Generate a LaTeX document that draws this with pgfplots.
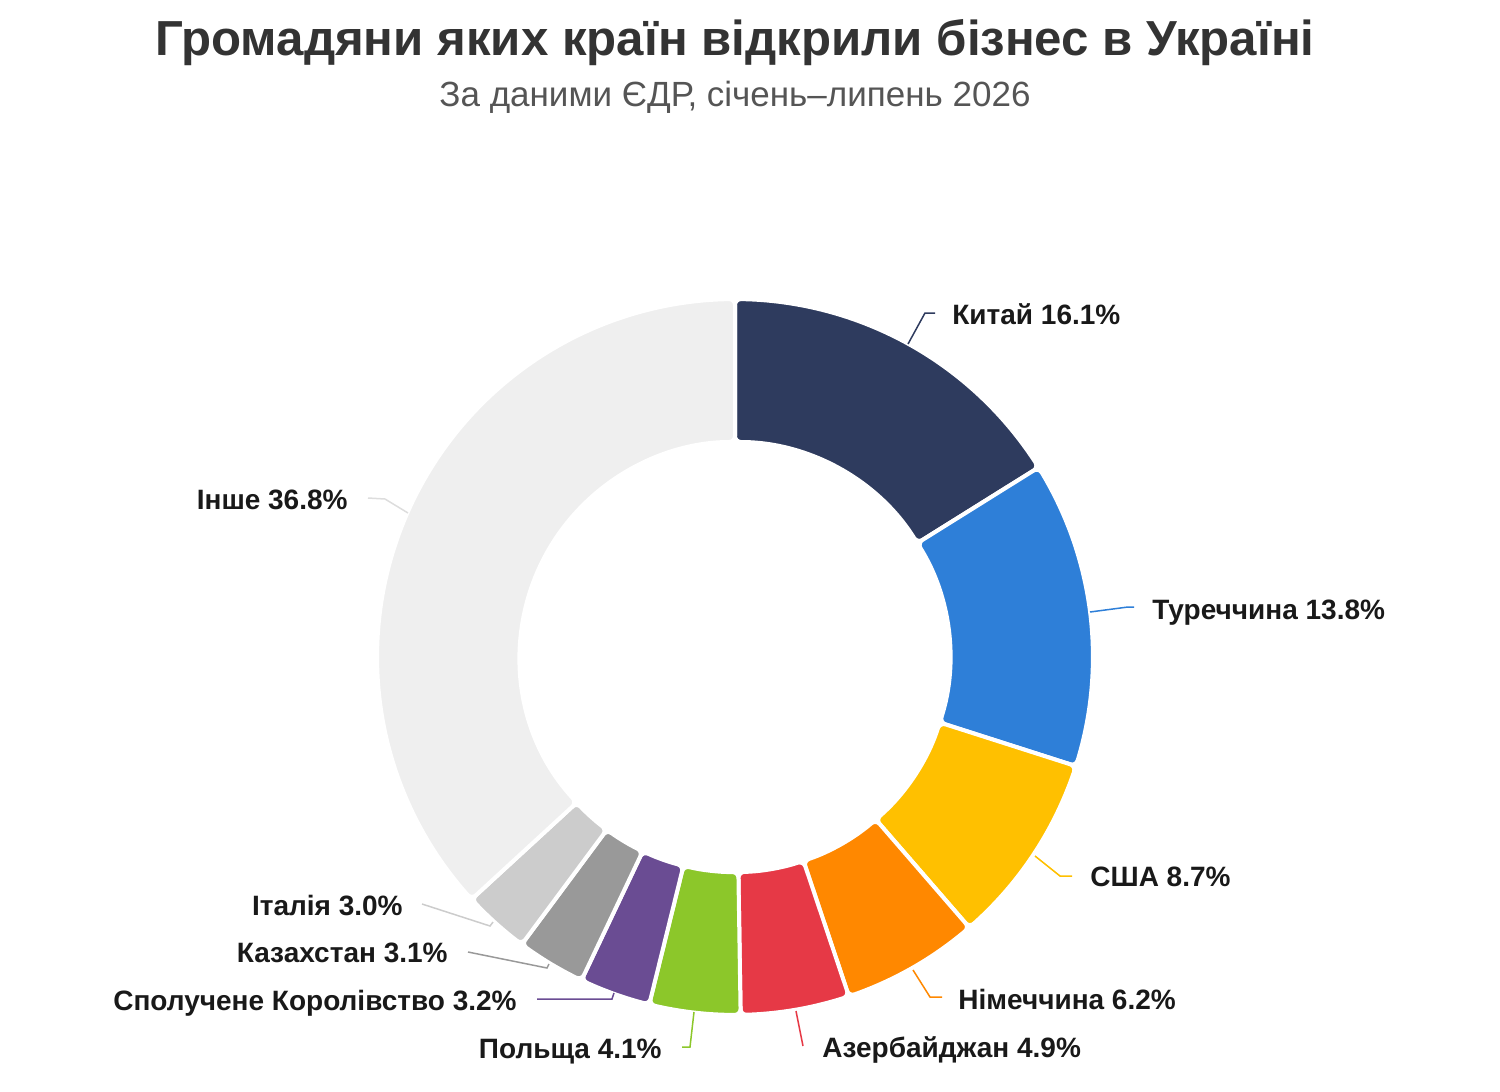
\documentclass[border=0pt]{standalone}
\usepackage{pgfplots}
\pgfplotsset{compat=1.18}
\usepackage{fontspec}
\setmainfont{Liberation Sans}
\definecolor{cChina}{HTML}{2E3B5E}
\definecolor{cTurkey}{HTML}{2E7FD8}
\definecolor{cUSA}{HTML}{FFC000}
\definecolor{cGermany}{HTML}{FF8800}
\definecolor{cAzer}{HTML}{E63946}
\definecolor{cPoland}{HTML}{8CC72A}
\definecolor{cUK}{HTML}{6A4C93}
\definecolor{cKaz}{HTML}{999999}
\definecolor{cItaly}{HTML}{CCCCCC}
\definecolor{cOther}{HTML}{EFEFEF}
\definecolor{cOtherLine}{HTML}{DDDDDD}
\definecolor{titlegray}{HTML}{333333}
\definecolor{subgray}{HTML}{555555}
% shares, per cent
\def\vChina{16.1}\def\vTurkey{13.8}\def\vUSA{8.7}\def\vGermany{6.2}\def\vAzer{4.9}
\def\vPoland{4.1}\def\vUK{3.2}\def\vKaz{3.1}\def\vItaly{3.0}\def\vOther{36.8}
\pgfmathsetmacro{\cA}{0}
\pgfmathsetmacro{\cB}{\cA+\vChina}
\pgfmathsetmacro{\cC}{\cB+\vTurkey}
\pgfmathsetmacro{\cD}{\cC+\vUSA}
\pgfmathsetmacro{\cE}{\cD+\vGermany}
\pgfmathsetmacro{\cF}{\cE+\vAzer}
\pgfmathsetmacro{\cG}{\cF+\vPoland}
\pgfmathsetmacro{\cH}{\cG+\vUK}
\pgfmathsetmacro{\cI}{\cH+\vKaz}
\pgfmathsetmacro{\cJ}{\cI+\vItaly}
\pgfmathsetmacro{\cK}{\cJ+\vOther}
\pgfmathsetmacro{\kdeg}{360/\cK}
\newcommand{\slice}[3]{%
  \pgfmathsetmacro{\aLo}{90-\kdeg*#2}%
  \pgfmathsetmacro{\aHi}{90-\kdeg*#1}%
  \pgfmathsetmacro{\ix}{735+215*cos(\aHi)}%
  \pgfmathsetmacro{\iy}{657-215*sin(\aHi)}%
  \pgfmathtruncatemacro{\ns}{max(3,(\aHi-\aLo)/2)}%
  \edef\temp{\noexpand\addplot[fill=#3, draw=white, line width=2pt,
    line join=round, rounded corners=3pt, domain=\aLo:\aHi, samples=\ns]
    ({735+358*cos(x)},{657-358*sin(x)}) -- (axis cs:\ix,\iy)
    arc[start angle=\aHi, end angle=\aLo, radius=107.5pt] -- cycle;}%
  \temp
}
\begin{document}
\begin{tikzpicture}
\begin{axis}[
  width=750pt, height=546pt, scale only axis,
  xmin=0, xmax=1500, ymin=0, ymax=1092, y dir=reverse,
  hide axis, clip=false,
]
\path (axis cs:0,0) rectangle (axis cs:1500,1092);
\slice{\cA}{\cB}{cChina}
\slice{\cB}{\cC}{cTurkey}
\slice{\cC}{\cD}{cUSA}
\slice{\cD}{\cE}{cGermany}
\slice{\cE}{\cF}{cAzer}
\slice{\cF}{\cG}{cPoland}
\slice{\cG}{\cH}{cUK}
\slice{\cH}{\cI}{cKaz}
\slice{\cI}{\cJ}{cItaly}
\slice{\cJ}{\cK}{cOther}
% leader lines
\addplot[cChina, line width=0.75pt] coordinates {(908,344) (925,313) (935,313)};
\addplot[cTurkey, line width=0.75pt] coordinates {(1090,612) (1128,607) (1134,607)};
\addplot[cUSA, line width=0.75pt] coordinates {(1035,856) (1060,876) (1072,876)};
\addplot[cGermany, line width=0.75pt] coordinates {(913,970) (930,997) (942,997)};
\addplot[cAzer, line width=0.75pt] coordinates {(796,1011) (803,1046)};
\addplot[cPoland, line width=0.75pt] coordinates {(694,1012) (690,1047) (682,1047)};
\addplot[cUK, line width=0.75pt] coordinates {(614,993) (612,999) (537,999)};
\addplot[cKaz, line width=0.75pt] coordinates {(549,964) (547,968) (468,952)};
\addplot[cItaly, line width=0.75pt] coordinates {(493,922) (490,926) (422,904)};
\addplot[cOtherLine, line width=0.75pt] coordinates {(408,513) (385,499) (368,498)};
% labels
\begin{scope}[every node/.style={font=\fontsize{14}{16}\selectfont\bfseries, text=black!90, inner sep=0pt}]
\node[anchor=base west] at (axis cs:952,324) {Китай 16.1\%};
\node[anchor=base west] at (axis cs:1152,619) {Туреччина 13.8\%};
\node[anchor=base west] at (axis cs:1090,886) {США 8.7\%};
\node[anchor=base west] at (axis cs:958,1009) {Німеччина 6.2\%};
\node[anchor=base west] at (axis cs:822,1057) {Азербайджан 4.9\%};
\node[anchor=base east] at (axis cs:662,1058) {Польща 4.1\%};
\node[anchor=base east] at (axis cs:517,1010) {Сполучене Королівство 3.2\%};
\node[anchor=base east] at (axis cs:448,962) {Казахстан 3.1\%};
\node[anchor=base east] at (axis cs:403,915) {Італія 3.0\%};
\node[anchor=base east] at (axis cs:348,509) {Інше 36.8\%};
\end{scope}
% titles
\node[anchor=base, inner sep=0pt, text=titlegray, font=\fontsize{24.6}{28}\selectfont\bfseries] at (axis cs:735,55) {Громадяни яких країн відкрили бізнес в Україні};
\node[anchor=base, inner sep=0pt, text=subgray, font=\fontsize{17.5}{20}\selectfont] at (axis cs:735,106) {За даними ЄДР, січень–липень 2026};
\end{axis}
\end{tikzpicture}
\end{document}
